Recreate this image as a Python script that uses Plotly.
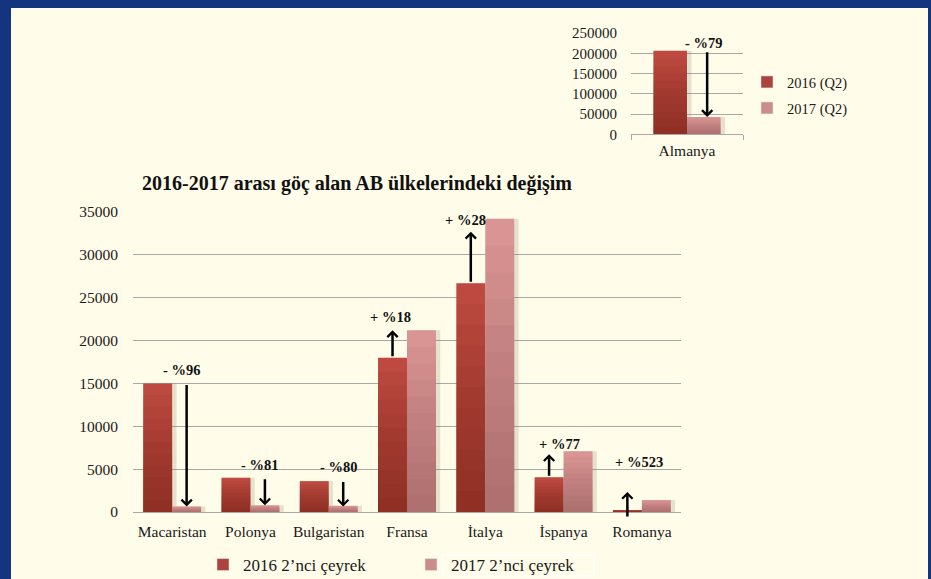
import plotly.graph_objects as go

# ---------------- data ----------------
countries = ["Macaristan", "Polonya", "Bulgaristan", "Fransa", "İtalya", "İspanya", "Romanya"]
q2_2016 = [15000, 4000, 3600, 18000, 26700, 4050, 230]
q2_2017 = [650, 780, 720, 21200, 34200, 7100, 1400]
change_labels = ["- %96", "- %81", "- %80", "+ %18", "+ %28", "+ %77", "+ %523"]
main_ticks = [0, 5000, 10000, 15000, 20000, 25000, 30000, 35000]

inset_countries = ["Almanya"]
inset_2016 = [206000]
inset_2017 = [43000]
inset_change_label = "- %79"
inset_ticks = [0, 50000, 100000, 150000, 200000, 250000]

main_names = ["2016 2\u2019nci çeyrek", "2017 2\u2019nci çeyrek"]
inset_names = ["2016 (Q2)", "2017 (Q2)"]
title_text = "2016-2017 arası göç alan AB ülkelerindeki değişim"

# ---------------- style ----------------
W, H = 931, 579
FONT = "Liberation Serif"
BG = "#FFFCE9"
BORDER = "#15347F"
C16_TOP = "#BD4941"
C17_TOP = "#D99594"
C16_SHADE = "rgba(110,25,22,0.067)"
C17_SHADE = "rgba(120,80,80,0.054)"
C16_LEG = "#AC433C"
C17_LEG = "#CA8D8C"
SHADOW = "rgba(130,120,90,0.20)"
GRID = "#A8A8A8"
N_SHADE = 10


def dom_x(a, b):
    return [a / W, b / W]


def dom_y(top, bottom):
    return [1 - bottom / H, 1 - top / H]


MAIN_X = (133, 681)
MAIN_Y = (212, 512)
INS_X = (631, 743)
INS_Y = (33, 134.3)

BW = 0.37      # main bar width (category units)
IBW = 0.30     # inset bar width

fig = go.Figure()

# shadows (under the bars)
for vals, off in ((q2_2016, -BW), (q2_2017, 0.0)):
    fig.add_trace(go.Bar(x=countries, y=vals, width=BW, offset=off + 0.055,
                         marker=dict(color=SHADOW, line=dict(width=0)),
                         showlegend=False, hoverinfo="skip", xaxis="x", yaxis="y"))
for vals, off in ((inset_2016, -IBW), (inset_2017, 0.0)):
    fig.add_trace(go.Bar(x=inset_countries, y=vals, width=IBW, offset=off + 0.04,
                         marker=dict(color=SHADOW, line=dict(width=0)),
                         showlegend=False, hoverinfo="skip", xaxis="x2", yaxis="y2"))


def add_series(cats, vals, name, width, offset, top_color, shade, leg_color, xa, ya, legend):
    # the real bar
    fig.add_trace(go.Bar(x=cats, y=vals, name=name, width=width, offset=offset,
                         marker=dict(color=top_color, line=dict(width=0)),
                         xaxis=xa, yaxis=ya, showlegend=False))
    # vertical shading (darker towards the base), drawn from the same values
    for k in range(1, N_SHADE + 1):
        frac = k / (N_SHADE + 1)
        fig.add_trace(go.Bar(x=cats, y=[v * frac for v in vals], width=width, offset=offset,
                             marker=dict(color=shade, line=dict(width=0)),
                             xaxis=xa, yaxis=ya, showlegend=False, hoverinfo="skip"))
    # legend entry
    fig.add_trace(go.Bar(x=[None], y=[None], name=name, marker=dict(color=leg_color),
                         xaxis=xa, yaxis=ya, legend=legend, showlegend=True))


add_series(countries, q2_2016, main_names[0], BW, -BW, C16_TOP, C16_SHADE, C16_LEG, "x", "y", "legend")
add_series(countries, q2_2017, main_names[1], BW, 0.0, C17_TOP, C17_SHADE, C17_LEG, "x", "y", "legend")
add_series(inset_countries, inset_2016, inset_names[0], IBW, -IBW, C16_TOP, C16_SHADE, C16_LEG, "x2", "y2", "legend2")
add_series(inset_countries, inset_2017, inset_names[1], IBW, 0.0, C17_TOP, C17_SHADE, C17_LEG, "x2", "y2", "legend3")

annotations = []
# arrows in main chart
px_per_unit = (MAIN_Y[1] - MAIN_Y[0]) / 35000.0
min_len = 26 / px_per_unit
label_dx = [-5, -5, -5, -2, -5, 10, 12]
label_dy = [0, 0, 0, 0, -14, -6, 17]
arrow_standoff = [0, 0, 0, 0, 13, 3, 0]
for i, (a, b) in enumerate(zip(q2_2016, q2_2017)):
    up = b > a
    xpos = i - BW / 2 if up else i + BW / 2
    tail, head = a, b
    if abs(head - tail) < min_len:
        mid = (a + b) / 2
        sgn = 1 if up else -1
        tail, head = mid - sgn * min_len / 2, mid + sgn * min_len / 2
    annotations.append(dict(x=xpos, y=head, ax=xpos, ay=tail, xref="x", yref="y",
                            axref="x", ayref="y", text="", showarrow=True,
                            arrowhead=4, arrowsize=0.8, arrowwidth=2.5,
                            arrowcolor="#000000", standoff=arrow_standoff[i], startstandoff=0))
    ly = head if up else tail
    annotations.append(dict(x=xpos, y=ly, xref="x", yref="y", text="<b>%s</b>" % change_labels[i],
                            showarrow=False, xanchor="center", yanchor="middle",
                            xshift=label_dx[i], yshift=13 + label_dy[i],
                            font=dict(family=FONT, size=14.5, color="#111111")))

# inset arrow
ix = IBW / 2 + 0.03
annotations.append(dict(x=ix, y=inset_2017[0], ax=ix, ay=inset_2016[0], xref="x2", yref="y2",
                        axref="x2", ayref="y2", text="", showarrow=True, arrowhead=4,
                        arrowsize=0.8, arrowwidth=2.5, arrowcolor="#000000",
                        standoff=0, startstandoff=0))
annotations.append(dict(x=ix, y=inset_2016[0], xref="x2", yref="y2",
                        text="<b>%s</b>" % inset_change_label, showarrow=False,
                        xanchor="center", yanchor="middle", xshift=-4, yshift=8,
                        font=dict(family=FONT, size=14.5, color="#111111")))

# title
annotations.append(dict(x=356.5 / W, y=1 - 183 / H, xref="paper", yref="paper",
                        text="<b>%s</b>" % title_text, showarrow=False,
                        xanchor="center", yanchor="middle",
                        font=dict(family=FONT, size=20, color="#111111")))

shapes = [
    dict(type="rect", xref="paper", yref="paper", x0=11 / W, x1=928 / W, y0=0, y1=1 - 8 / H,
         fillcolor=BG, line=dict(width=0), layer="below"),
    dict(type="rect", xref="paper", yref="paper", x0=443 / W, x1=594 / W,
         y0=1 - 576 / H, y1=1 - 555 / H, line=dict(color="#FFFFFF", width=1.5),
         fillcolor="rgba(0,0,0,0)", layer="below"),
]

tickfont = dict(family=FONT, size=15.5, color="#1a1a1a")
inset_leg_font = dict(family=FONT, size=14.5, color="#1a1a1a")

fig.update_layout(
    width=W, height=H,
    margin=dict(l=0, r=0, t=0, b=0, autoexpand=False),
    paper_bgcolor=BORDER,
    plot_bgcolor="rgba(0,0,0,0)",
    barmode="overlay",
    font=dict(family=FONT, color="#1a1a1a"),
    showlegend=True,
    annotations=annotations,
    shapes=shapes,
    xaxis=dict(domain=dom_x(*MAIN_X), anchor="y", type="category", range=[-0.5, 6.5],
               showline=True, linecolor=GRID, linewidth=1, showgrid=False, ticks="",
               tickfont=tickfont, ticklabelstandoff=5, automargin=False),
    yaxis=dict(domain=dom_y(*MAIN_Y), anchor="x", range=[0, 35000], tickvals=main_ticks,
               ticktext=[str(t) for t in main_ticks], showgrid=True, gridcolor=GRID,
               gridwidth=1, zeroline=False, showline=False, ticks="",
               tickfont=tickfont, ticklabelstandoff=14, automargin=False),
    xaxis2=dict(domain=dom_x(*INS_X), anchor="y2", type="category", range=[-0.5, 0.5],
                showline=True, linecolor=GRID, linewidth=1, showgrid=False,
                ticks="outside", tickson="boundaries", ticklen=5, tickcolor=GRID,
                tickfont=tickfont, ticklabelstandoff=2, automargin=False),
    yaxis2=dict(domain=dom_y(*INS_Y), anchor="x2", range=[0, 250000], tickvals=inset_ticks,
                ticktext=[str(t) for t in inset_ticks], showgrid=True, gridcolor=GRID,
                gridwidth=1, zeroline=False, showline=False, ticks="",
                tickfont=dict(family=FONT, size=15, color="#1a1a1a"), ticklabelstandoff=13,
                automargin=False),
    legend=dict(orientation="h", x=203 / W, y=1 - 565 / H, xanchor="left", yanchor="middle",
                bgcolor="rgba(0,0,0,0)", font=dict(family=FONT, size=17, color="#1a1a1a"),
                entrywidth=163, entrywidthmode="pixels", traceorder="normal"),
    legend2=dict(orientation="v", x=747 / W, y=1 - 82 / H, xanchor="left", yanchor="middle",
                 bgcolor="rgba(0,0,0,0)", font=inset_leg_font, itemwidth=30),
    legend3=dict(orientation="v", x=747 / W, y=1 - 108 / H, xanchor="left", yanchor="middle",
                 bgcolor="rgba(0,0,0,0)", font=inset_leg_font, itemwidth=30),
)

post = (
    "document.documentElement.style.margin='0';"
    "document.documentElement.style.overflow='hidden';"
    "document.body.style.margin='0';document.body.style.padding='0';"
    "document.body.style.overflow='hidden';"
    "var d=document.getElementById('{plot_id}');"
    "d.style.position='fixed';d.style.left='0px';d.style.top='0px';"
)
fig.write_html("out.html", config={"displayModeBar": False}, post_script=post)
